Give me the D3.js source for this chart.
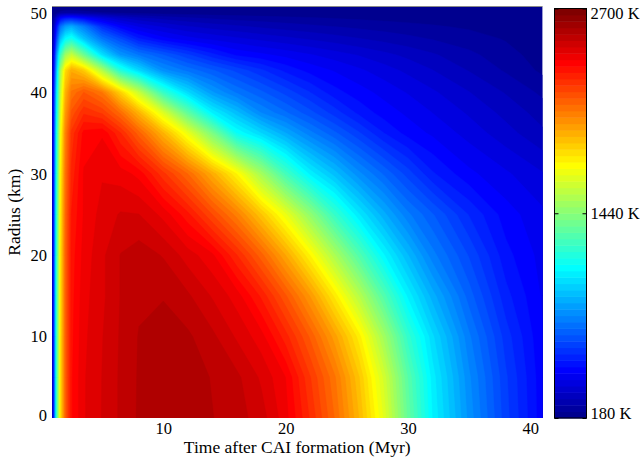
<!DOCTYPE html>
<html>
<head>
<meta charset="utf-8">
<script src="https://cdn.jsdelivr.net/npm/d3@7"></script>
<style>
  body { margin: 0; background: #fff; }
</style>
</head>
<body>
<div id="chart"></div>
<script>
// time samples (Myr after CAI) and radius samples (km) of the temperature field
const times = [0.9, 1.05, 1.3, 1.6, 2, 2.5, 3.5, 5, 6.5, 8, 10, 12, 14, 16, 18, 20, 22, 24, 26, 28, 30, 32, 35, 38, 41];
const radii = [0, 5, 10, 15, 20, 25, 30, 35, 37.5, 40, 42.7, 44.6, 46.6, 48.1, 49.1, 49.8, 50.55];

// temperature (K) along each radius, one value per time sample
const tempR0     = [200, 520, 1250, 1800, 2130, 2340, 2420, 2466, 2510, 2548, 2570, 2565, 2544, 2521, 2483, 2401, 2262, 2108, 1912, 1672, 1350, 1084, 835, 629, 470];
const tempR5     = [200, 520, 1250, 1800, 2130, 2340, 2420, 2465, 2510, 2547, 2568, 2562, 2540, 2513, 2457, 2385, 2231, 2078, 1877, 1629, 1320, 1067, 818, 620, 468];
const tempR10    = [200, 520, 1250, 1800, 2130, 2335, 2415, 2462, 2508, 2545, 2560, 2550, 2513, 2458, 2402, 2285, 2142, 1972, 1775, 1508, 1225, 1017, 779, 594, 460];
const tempR15    = [200, 515, 1245, 1795, 2125, 2330, 2410, 2455, 2505, 2535, 2540, 2510, 2460, 2406, 2299, 2156, 1989, 1785, 1557, 1309, 1075, 909, 712, 549, 450];
const tempR20    = [200, 515, 1240, 1790, 2120, 2325, 2400, 2455, 2505, 2525, 2500, 2445, 2395, 2270, 2127, 1952, 1755, 1530, 1305, 1093, 931, 787, 648, 509, 440];
const tempR25    = [200, 510, 1230, 1775, 2105, 2310, 2390, 2440, 2468, 2465, 2412, 2319, 2188, 2053, 1878, 1688, 1463, 1237, 1052, 905, 781, 697, 571, 475, 425];
const tempR30    = [200, 500, 1200, 1750, 2080, 2280, 2390, 2420, 2405, 2372, 2241, 2109, 1940, 1755, 1513, 1270, 1075, 949, 823, 727, 634, 541, 466, 423, 380];
const tempR35    = [200, 490, 1160, 1700, 2040, 2240, 2360, 2380, 2270, 2127, 1918, 1687, 1411, 1125, 1008, 892, 785, 702, 619, 536, 479, 448, 400, 353, 306];
const tempR37_5  = [200, 480, 1110, 1640, 1980, 2160, 2260, 2220, 2100, 1919, 1650, 1341, 1078, 944, 810, 738, 667, 595, 524, 477, 447, 416, 371, 325, 280];
const tempR40    = [200, 470, 1060, 1580, 1920, 2080, 2150, 2070, 1845, 1598, 1236, 1015, 857, 765, 702, 638, 575, 511, 473, 443, 413, 384, 339, 295, 250];
const tempR42_7  = [195, 430, 950, 1500, 1820, 1940, 1860, 1545, 1192, 1014, 829, 758, 699, 641, 583, 524, 481, 452, 424, 396, 367, 339, 296, 254, 211];
const tempR44_6  = [190, 400, 850, 1250, 1500, 1600, 1377, 1037, 848, 767, 694, 622, 549, 489, 466, 443, 420, 397, 374, 350, 327, 304, 269, 235, 200];
const tempR46_6  = [185, 340, 650, 950, 1100, 1150, 960, 760, 650, 540, 470, 430, 405, 385, 365, 348, 332, 316, 300, 285, 270, 256, 237, 216, 195];
const tempR48_1  = [182, 300, 520, 750, 860, 900, 780, 580, 470, 410, 370, 340, 320, 305, 290, 278, 268, 258, 249, 240, 232, 224, 213, 201, 190];
const tempR49_1  = [180, 250, 380, 490, 540, 550, 490, 400, 345, 310, 285, 268, 255, 245, 238, 231, 225, 219, 214, 209, 205, 201, 196, 191, 186];
const tempR49_8  = [180, 190, 210, 230, 240, 240, 232, 220, 210, 205, 200, 197, 194, 192, 190, 189, 188, 187, 186, 185, 184, 183, 182, 181, 181];
const tempR50_55 = [180, 180, 180, 180, 180, 180, 180, 180, 180, 180, 180, 180, 180, 180, 180, 180, 180, 180, 180, 180, 180, 180, 180, 180, 180];

const tempRows = [tempR0, tempR5, tempR10, tempR15, tempR20, tempR25, tempR30, tempR35,
  tempR37_5, tempR40, tempR42_7, tempR44_6, tempR46_6, tempR48_1, tempR49_1, tempR49_8, tempR50_55];

const xTicks = [10, 20, 30, 40];
const yTicks = [0, 10, 20, 30, 40, 50];
const colorbarTicks = [180, 1440, 2700];
const tempMin = 180;
const tempMax = 2700;

const width = 644;
const height = 461;
const plot = { left: 52, right: 542.5, top: 6.5, bottom: 418 };
const bar = { left: 554.5, right: 586.5, top: 8.5, bottom: 418 };
const fontFamily = '"Liberation Serif", "Times New Roman", serif';

// matlab jet(64), k = 1..64
function jet64(k) {
  const r = k < 25 ? 0 : k <= 40 ? (k - 24) / 16 : k <= 55 ? 1 : (72 - k) / 16;
  const g = k < 9 ? 0 : k <= 24 ? (k - 8) / 16 : k <= 39 ? 1 : k <= 55 ? (56 - k) / 16 : 0;
  const b = k <= 8 ? (k + 8) / 16 : k <= 23 ? 1 : k <= 39 ? (40 - k) / 16 : 0;
  return d3.rgb(r * 255, g * 255, b * 255).formatHex();
}

const nLevels = 64;
const step = (tempMax - tempMin) / nLevels;
const levels = d3.range(nLevels).map((i) => tempMin + i * step);

const x = d3.scaleLinear().domain([0.9, 41]).range([plot.left, plot.right]);
const y = d3.scaleLinear().domain([0, 50.55]).range([plot.bottom, plot.top]);
const cb = d3.scaleLinear().domain([tempMin, tempMax]).range([bar.bottom, bar.top]);

const svg = d3
  .select("#chart")
  .append("svg")
  .attr("width", width)
  .attr("height", height)
  .attr("viewBox", [0, 0, width, height]);

svg
  .append("defs")
  .append("clipPath")
  .attr("id", "plotClip")
  .append("rect")
  .attr("x", plot.left)
  .attr("y", plot.top)
  .attr("width", plot.right - plot.left)
  .attr("height", plot.bottom - plot.top);

// filled contours of the field, grid index -> (time, radius) through piecewise scales
const nt = times.length;
const nr = radii.length;
const values = tempRows.flat();
const contours = d3.contours().size([nt, nr]).thresholds(levels)(values);

const tOfIdx = d3.scaleLinear().domain(d3.range(nt)).range(times).clamp(true);
const rOfIdx = d3.scaleLinear().domain(d3.range(nr)).range(radii).clamp(true);
const gridProjection = d3.geoTransform({
  point(px, py) {
    this.stream.point(x(tOfIdx(px - 0.5)), y(rOfIdx(py - 0.5)));
  },
});
const path = d3.geoPath(gridProjection);

svg
  .append("g")
  .attr("clip-path", "url(#plotClip)")
  .selectAll("path")
  .data(contours)
  .join("path")
  .attr("d", path)
  .attr("fill", (d, i) => jet64(i + 1))
  .attr("stroke", (d, i) => jet64(i + 1))
  .attr("stroke-width", 0.4);

// faint top frame line
svg
  .append("line")
  .attr("x1", plot.left)
  .attr("x2", plot.right)
  .attr("y1", plot.top)
  .attr("y2", plot.top)
  .attr("stroke", "#8a8a8a")
  .attr("stroke-width", 1);

// axes
const styleAxis = (g) =>
  g
    .attr("font-family", fontFamily)
    .attr("font-size", 16.5)
    .call((g) => g.select(".domain").remove());

svg
  .append("g")
  .attr("transform", `translate(0,${plot.bottom})`)
  .call(d3.axisBottom(x).tickValues(xTicks).tickSize(0).tickPadding(4))
  .call(styleAxis);

svg
  .append("g")
  .attr("transform", `translate(${plot.left},0)`)
  .call(d3.axisLeft(y).tickValues(yTicks).tickSize(0).tickPadding(5))
  .call(styleAxis)
  .call((g) =>
    g.selectAll("text").attr("dy", (d) => (d === 0 ? "0.14em" : d === 50 ? "0.46em" : "0.32em"))
  );

svg
  .append("text")
  .attr("x", (plot.left + plot.right) / 2)
  .attr("y", 453)
  .attr("text-anchor", "middle")
  .attr("font-family", fontFamily)
  .attr("font-size", 17.5)
  .text("Time after CAI formation (Myr)");

svg
  .append("text")
  .attr("transform", `translate(20,${(plot.top + plot.bottom) / 2}) rotate(-90)`)
  .attr("text-anchor", "middle")
  .attr("font-family", fontFamily)
  .attr("font-size", 17.5)
  .text("Radius (km)");

// colorbar
svg
  .append("g")
  .selectAll("rect")
  .data(levels)
  .join("rect")
  .attr("x", bar.left)
  .attr("width", bar.right - bar.left)
  .attr("y", (d) => cb(d + step))
  .attr("height", (d) => cb(d) - cb(d + step) + 0.5)
  .attr("fill", (d, i) => jet64(i + 1));

svg
  .append("rect")
  .attr("x", bar.left)
  .attr("y", bar.top)
  .attr("width", bar.right - bar.left)
  .attr("height", bar.bottom - bar.top)
  .attr("fill", "none")
  .attr("stroke", "#000")
  .attr("stroke-width", 1);

svg
  .append("g")
  .attr("transform", `translate(${bar.left},0)`)
  .call(d3.axisLeft(cb).tickValues(colorbarTicks).tickSize(-4).tickFormat(""))
  .call((g) => g.select(".domain").remove());

svg
  .append("g")
  .attr("transform", `translate(${bar.right},0)`)
  .call(
    d3
      .axisRight(cb)
      .tickValues(colorbarTicks)
      .tickSize(-4)
      .tickPadding(4)
      .tickFormat((d) => `${d} K`)
  )
  .call(styleAxis)
  .call((g) =>
    g
      .selectAll("text")
      .attr("dy", (d) => (d === tempMax ? "0.62em" : d === tempMin ? "0.0em" : "0.32em"))
  );
</script>
</body>
</html>
